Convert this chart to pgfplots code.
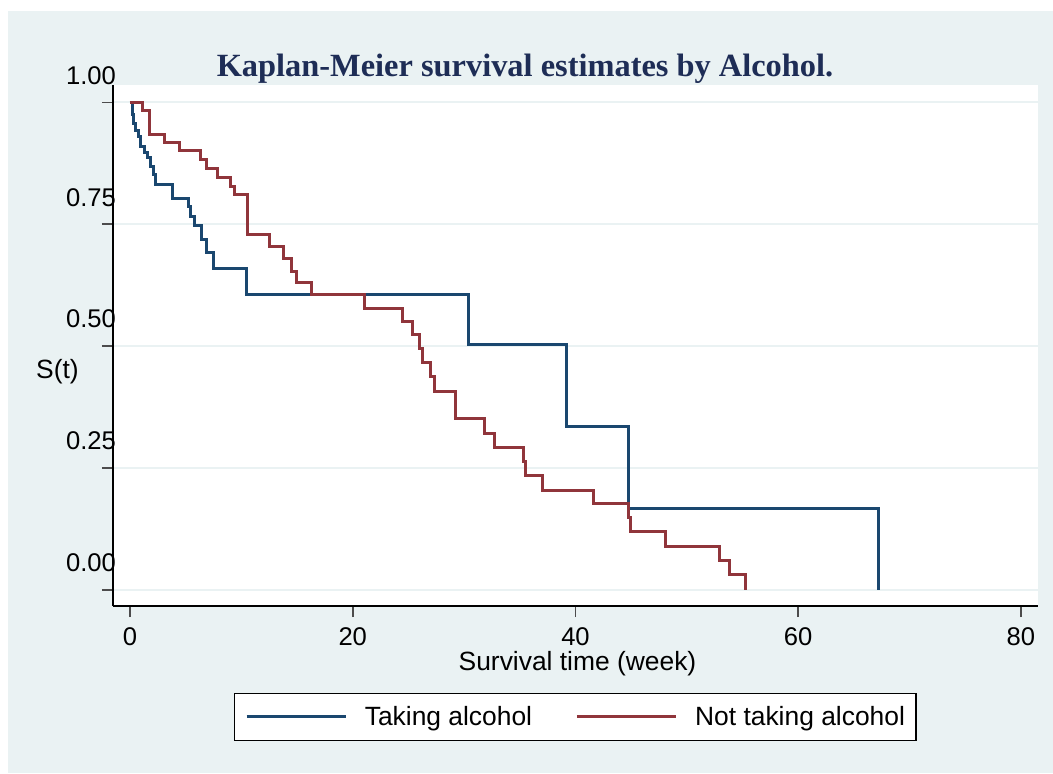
\documentclass[border=0pt]{standalone}
\usepackage{fontspec}
\setmainfont{Liberation Sans}
\newfontfamily\titlefont{Liberation Serif}
\usepackage{pgfplots}
\pgfplotsset{compat=1.18}
\definecolor{bgblue}{RGB}{234,242,243}
\definecolor{kmblue}{RGB}{26,71,111}
\definecolor{kmred}{RGB}{144,53,59}
\definecolor{titlenavy}{RGB}{30,45,86}
\begin{document}
\begin{tikzpicture}
\fill[white] (0,0) rectangle (526.5pt,386.5pt);
\fill[bgblue] (4pt,0) rectangle (526.5pt,381pt);
\begin{axis}[
  at={(56.5pt,83.5pt)}, anchor=south west,
  scale only axis, width=462.5pt, height=260.5pt,
  xmin=-1.526, xmax=81.53, ymin=-0.0328, ymax=1.0355,
  axis x line*=bottom, axis y line*=left,
  axis line style={black, line width=0.6pt, -},
  axis background/.style={fill=white},
  xtick={0,20,40,60,80}, ytick={0,0.25,0.5,0.75,1},
  tick align=outside, major tick length=5.5pt,
  tick style={color=black!70, line width=0.8pt},
  ymajorgrids, major grid style={color=bgblue, line width=1pt},
  /pgf/number format/assume math mode=true,
  ticklabel style={font=\fontsize{12.8pt}{14pt}\selectfont},
  xticklabel style={yshift=-2pt},
  yticklabel style={/pgf/number format/fixed, /pgf/number format/fixed zerofill, /pgf/number format/precision=2, anchor=east, yshift=13.5pt, xshift=10.5pt},
  legend columns=2,
  legend style={at={(axis description cs:0.4995,-0.213)}, anchor=center, draw=black, line width=0.6pt, fill=white,
    inner xsep=5.5pt, inner ysep=6.3pt, font=\fontsize{13.2pt}{15pt}\selectfont, nodes={inner sep=0pt},
    /tikz/every odd column/.append style={column sep=8.85pt},
    /tikz/every even column/.append style={column sep=21.65pt}},
  legend image code/.code={\draw[#1] (0pt,0pt) -- (49.5pt,0pt);},
]
\addplot[kmblue, line width=1.5pt, const plot] coordinates {
(0,1.0) (0.18,0.974) (0.27,0.957) (0.48,0.943) (0.72,0.929) (0.96,0.909)
(1.26,0.898) (1.55,0.886) (1.86,0.869) (2.15,0.851) (2.33,0.832) (3.86,0.803)
(5.24,0.786) (5.45,0.765) (5.77,0.747) (6.43,0.719) (6.88,0.692) (7.54,0.659)
(10.47,0.605) (30.35,0.504) (39.15,0.336) (44.74,0.168) (67.19,0)
};
\addlegendentry{Taking alcohol}
\addplot[kmred, line width=1.5pt, const plot] coordinates {
(0,1.0) (1.14,0.984) (1.71,0.935) (3.12,0.918) (4.46,0.901) (6.35,0.883)
(6.9,0.865) (7.84,0.846) (8.98,0.828) (9.37,0.810) (10.57,0.728) (12.57,0.704)
(13.77,0.679) (14.46,0.653) (14.96,0.631) (16.31,0.605) (21.04,0.5775) (24.45,0.550)
(25.35,0.523) (25.95,0.495) (26.28,0.467) (27.0,0.437) (27.3,0.408) (29.27,0.351)
(31.87,0.321) (32.77,0.293) (35.3,0.263) (35.5,0.2345) (37.0,0.205) (41.6,0.178)
(44.74,0.148) (44.9,0.1196) (48.1,0.0889) (52.97,0.060) (53.81,0.031) (55.28,0)
};
\addlegendentry{Not taking alcohol\hspace{4pt}}
\end{axis}
\node[font=\titlefont\bfseries\fontsize{16.2pt}{18pt}\selectfont, text=titlenavy, anchor=base] at (262.5pt,348.5pt) {Kaplan-Meier survival estimates by Alcohol.};
\node[font=\fontsize{13.2pt}{15pt}\selectfont, anchor=center] at (28.75pt,200.5pt) {S(t)};
\node[font=\fontsize{13.2pt}{15pt}\selectfont, anchor=base] at (288.75pt,51.5pt) {Survival time (week)};
\end{tikzpicture}
\end{document}
